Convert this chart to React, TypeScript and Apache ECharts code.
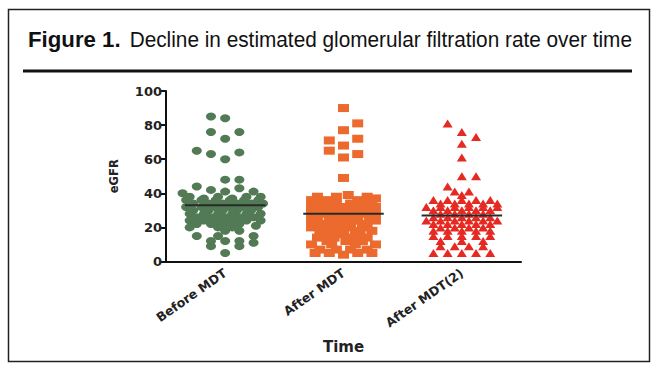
import React, { useEffect, useRef } from "react";
import * as echarts from "echarts";

const categories = ["Before MDT", "After MDT", "After MDT(2)"];
const means = [33, 28, 27];

// [x offset within group (category units), eGFR]
const beforeMDT: number[][] = [
  [-0.12, 85], [0, 84], [-0.12, 76], [0.12, 76], [0, 72], [-0.24, 65], [-0.12, 63], [0, 60], [0.12, 64],
  [0, 48], [0.12, 48], [-0.24, 44], [-0.12, 42], [0, 41], [0.12, 43], [-0.36, 40], [0.24, 41],
  [-0.3, 38], [-0.18, 37], [-0.06, 38], [0.06, 37], [0.18, 38], [0.3, 38],
  [-0.33, 36], [-0.2, 36], [-0.08, 36], [0.04, 36], [0.16, 36], [0.28, 36],
  [-0.27, 34], [-0.14, 34], [-0.02, 34], [0.1, 34], [0.22, 34], [0.32, 34],
  [-0.33, 32], [-0.2, 32], [-0.08, 32], [0.04, 32], [0.16, 32], [0.28, 32],
  [-0.27, 30], [-0.14, 30], [-0.02, 30], [0.1, 30], [0.22, 30],
  [-0.3, 28], [-0.18, 28], [-0.06, 28], [0.06, 28], [0.18, 28], [0.3, 28],
  [-0.24, 26], [-0.12, 26], [0, 26], [0.12, 26], [0.24, 26],
  [-0.3, 24], [-0.18, 24], [-0.06, 24], [0.06, 24], [0.18, 24], [0.3, 24],
  [-0.24, 22], [-0.12, 22], [0, 22], [0.12, 22],
  [-0.3, 20], [-0.06, 20], [0.06, 20], [0.26, 21],
  [0, 18], [0.12, 18],
  [-0.24, 15], [-0.12, 12], [-0.06, 15], [0, 12], [0.12, 12], [0.24, 15], [0.24, 11],
  [-0.12, 9], [0.12, 9], [0, 5],
];

const afterMDT: number[][] = [
  [0, 90], [0.12, 81], [0, 77], [-0.12, 71], [0.12, 72], [-0.12, 65], [0, 68], [0, 61], [0.12, 63], [0, 49],
  [-0.22, 38], [-0.06, 38], [0.04, 39], [0.2, 38], [0.27, 37],
  [-0.27, 36], [-0.14, 36], [0.12, 36], [0.24, 35],
  [-0.2, 34], [-0.06, 34], [0.06, 34], [0.18, 34],
  [-0.27, 32], [-0.14, 32], [0, 32], [0.14, 32], [0.27, 32],
  [-0.22, 30], [-0.08, 30], [0.06, 30], [0.2, 30],
  [-0.27, 28], [-0.14, 28], [0, 28], [0.14, 28], [0.27, 28],
  [-0.22, 26], [-0.08, 26], [0.08, 26], [0.22, 26],
  [-0.27, 24], [-0.12, 24], [0, 24], [0.12, 24], [0.27, 24],
  [-0.2, 22], [-0.06, 22], [0.06, 22], [0.2, 22],
  [-0.27, 20], [-0.12, 20], [0.02, 20], [0.16, 20],
  [-0.2, 18], [-0.06, 18], [0.1, 18], [0.24, 18],
  [-0.14, 16], [0, 16], [0.14, 16],
  [-0.22, 14], [-0.08, 14], [0.08, 14], [0.2, 14],
  [-0.14, 12], [0.02, 12], [0.16, 12],
  [-0.27, 10], [-0.1, 10], [0.1, 10], [0.27, 10],
  [-0.2, 7], [-0.06, 7], [0.06, 7], [0.2, 7],
  [-0.24, 5], [-0.12, 5], [0, 4], [0.12, 5], [0.24, 5],
];

const afterMDT2: number[][] = [
  [-0.12, 81], [0, 76], [0.12, 73], [0, 69], [0, 61], [0, 50], [0.12, 50], [-0.12, 44], [-0.06, 41], [0.06, 41], [0, 39],
  [-0.24, 36], [-0.12, 36], [0, 36], [0.12, 36], [0.24, 36],
  [-0.18, 34], [-0.06, 34], [0.06, 34], [0.18, 34], [0.3, 34],
  [-0.3, 32], [-0.18, 32], [-0.06, 32], [0.06, 32], [0.18, 32], [0.3, 32],
  [-0.24, 30], [-0.12, 30], [0, 30], [0.12, 30], [0.24, 30],
  [-0.18, 28], [-0.06, 28], [0.06, 28], [0.18, 28],
  [-0.24, 26], [-0.12, 26], [0, 26], [0.12, 26], [0.24, 26],
  [-0.3, 24], [-0.18, 24], [-0.06, 24], [0.06, 24], [0.18, 24], [0.3, 24],
  [-0.24, 22], [-0.12, 22], [0, 22], [0.12, 22], [0.24, 22],
  [-0.18, 20], [-0.06, 20], [0.06, 20], [0.18, 20],
  [-0.24, 18], [-0.12, 18], [0, 18], [0.12, 18], [0.24, 18],
  [-0.24, 15], [-0.12, 15], [0, 15], [0.12, 15], [0.24, 15],
  [-0.18, 12], [0, 12], [0.18, 12],
  [-0.18, 9], [-0.06, 9], [0.06, 9], [0.18, 9],
  [-0.24, 5], [-0.12, 5], [0, 5], [0.12, 5], [0.24, 5],
];

const groups = [beforeMDT, afterMDT, afterMDT2];
const colors = ["#527a55", "#ec6a2d", "#e42a22"];
const symbols = ["circle", "rect", "triangle"];
const symbolSizes = [[10, 8], [11, 8], [10, 8]];

const BOLD = "DejaVu Sans";

export default function App() {
  const ref = useRef<HTMLDivElement>(null);
  useEffect(() => {
    document.body.style.margin = "0";
    if (!ref.current) return;
    const chart = echarts.init(ref.current, null, { renderer: "svg" });
    const scatter = groups.map((g, gi) => ({
      type: "scatter",
      name: categories[gi],
      xAxisIndex: 1,
      yAxisIndex: 0,
      symbol: symbols[gi],
      symbolSize: symbolSizes[gi],
      itemStyle: { color: colors[gi], opacity: 1 },
      data: g.map((p) => [gi + p[0], p[1]]),
      z: 2,
    }));
    chart.setOption({
      animation: false,
      backgroundColor: "#ffffff",
      grid: { left: 166, right: 137, top: 91, bottom: 113.5, containLabel: false },
      xAxis: [
        {
          type: "category",
          data: categories,
          boundaryGap: true,
          name: "Time",
          nameLocation: "middle",
          nameGap: 78,
          nameTextStyle: { fontFamily: BOLD, fontWeight: "bold", fontSize: 15, color: "#222" },
          axisLine: { onZero: false, lineStyle: { color: "#111", width: 2 } },
          axisTick: { alignWithLabel: true, length: 5, lineStyle: { color: "#111", width: 2 } },
          axisLabel: {
            rotate: 35,
            margin: 10,
            interval: 0,
            fontFamily: BOLD,
            fontWeight: "bold",
            fontSize: 12.5,
            color: "#222",
          },
          splitLine: { show: false },
        },
        {
          type: "value",
          min: -0.5,
          max: 2.5,
          show: false,
          splitLine: { show: false },
        },
      ],
      yAxis: {
        type: "value",
        min: 0,
        max: 100,
        interval: 20,
        name: "eGFR",
        nameLocation: "middle",
        nameGap: 46,
        nameTextStyle: { fontFamily: BOLD, fontWeight: "bold", fontSize: 11.5, color: "#222" },
        axisLine: { show: true, onZero: false, lineStyle: { color: "#111", width: 2 } },
        axisTick: { show: true, length: 5, lineStyle: { color: "#111", width: 2 } },
        axisLabel: { margin: 4, fontFamily: BOLD, fontWeight: "bold", fontSize: 13, color: "#222" },
        splitLine: { show: false },
      },
      series: [
        ...scatter,
        {
          type: "custom",
          xAxisIndex: 1,
          yAxisIndex: 0,
          z: 5,
          data: means.map((m, i) => [i, m]),
          renderItem: (params: any, api: any) => {
            const c = api.value(0);
            const m = api.value(1);
            const p1 = api.coord([c - 0.34, m]);
            const p2 = api.coord([c + 0.34, m]);
            return {
              type: "line",
              shape: { x1: p1[0], y1: p1[1], x2: p2[0], y2: p2[1] },
              style: { stroke: "#2a2a2a", lineWidth: 2 },
            };
          },
        },
      ],
      graphic: [
        {
          type: "rect",
          shape: { x: 8.5, y: 9.5, width: 641, height: 352 },
          style: { fill: "none", stroke: "#222", lineWidth: 1.5 },
          z: 0,
        },
        {
          type: "line",
          shape: { x1: 23, y1: 71, x2: 632, y2: 71 },
          style: { stroke: "#111", lineWidth: 3 },
        },
        {
          type: "text",
          x: 28,
          y: 40,
          scaleX: 1.01,
          style: {
            text: "Figure 1.",
            fontFamily: "Liberation Sans",
            fontWeight: "bold",
            fontSize: 22,
            fill: "#111",
            verticalAlign: "middle",
          },
        },
        {
          type: "text",
          x: 632,
          y: 40,
          scaleX: 0.945,
          style: {
            text: "Decline in estimated glomerular filtration rate over time",
            fontFamily: "Liberation Sans",
            fontSize: 22,
            fill: "#111",
            align: "right",
            verticalAlign: "middle",
          },
        },
      ],
    });
    return () => chart.dispose();
  }, []);
  return <div ref={ref} style={{ width: 658, height: 375 }} />;
}
